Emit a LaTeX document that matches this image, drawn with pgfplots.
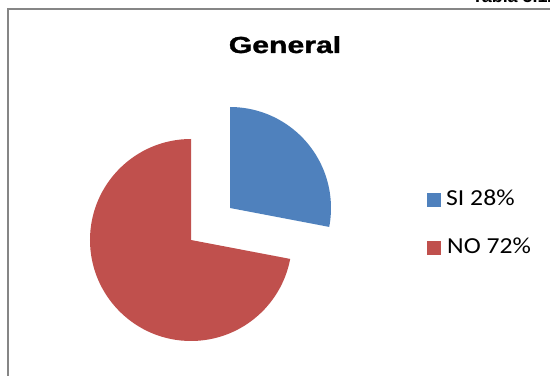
\documentclass[border=0pt]{standalone}
\usepackage{pgfplots}
\pgfplotsset{compat=1.18}
\usepackage{pgfplotstable}
\usepackage{graphicx}
\usepackage{fontspec}
\setmainfont{Liberation Sans}
\newfontfamily\calibri{Carlito}
\newfontface\titlefont{Liberation Sans Bold}[FakeBold=1.2]
\definecolor{siblue}{RGB}{79,129,189}
\definecolor{nored}{RGB}{192,80,77}
\definecolor{framegray}{RGB}{134,134,134}
% slice, percent
\pgfplotstableread{
label pct
SI 28
NO 72
}\piedata
\begin{document}
\begin{tikzpicture}
\useasboundingbox (0,0) rectangle (550bp,376bp);
\begin{axis}[
  at={(0,0)}, anchor=south west,
  scale only axis, width=550bp, height=376bp,
  xmin=0, xmax=550, ymin=0, ymax=376,
  hide axis, clip=false,
]
% frame
\draw[framegray, line width=2bp] (axis cs:8,-5) -- (axis cs:8,367) -- (axis cs:560,367);
% header text (cut off)
\node[anchor=base west, inner sep=0, font=\bfseries\fontsize{18}{20}\selectfont] at (axis cs:472,373.5) {Tabla 5.12};
% title
\node[anchor=base, inner sep=0] at (axis cs:285,323) {\scalebox{1.3}[1]{\fontsize{23.3}{28}\selectfont\titlefont General}};
% pie slices (SI 28%, NO 72%), starting at 90 deg, clockwise for SI
\pgfplotstablegetelem{0}{pct}\of\piedata \let\pSI\pgfplotsretval
\pgfplotstablegetelem{1}{pct}\of\piedata \let\pNO\pgfplotsretval
\pgfmathsetmacro{\aSI}{90-3.6*\pSI}
\pgfmathsetmacro{\aNO}{90+3.6*\pNO}
\fill[nored] (axis cs:191,136) -- ++(90:101bp) arc[start angle=90, end angle=\aNO, radius=101bp] -- cycle;
\fill[siblue] (axis cs:230,168) -- ++(\aSI:101bp) arc[start angle=\aSI, end angle=90, radius=101bp] -- cycle;
% legend
\fill[siblue] (axis cs:427,169) rectangle (axis cs:441,183);
\fill[nored] (axis cs:427,121) rectangle (axis cs:441,135);
\node[anchor=base west, inner sep=0] at (axis cs:446,170.3) {\scalebox{1.12}[1]{\calibri\fontsize{23}{27}\selectfont SI 28\%}};
\node[anchor=base west, inner sep=0] at (axis cs:447,122.3) {\scalebox{1.12}[1]{\calibri\fontsize{23}{27}\selectfont NO 72\%}};
\end{axis}
\end{tikzpicture}
\end{document}
